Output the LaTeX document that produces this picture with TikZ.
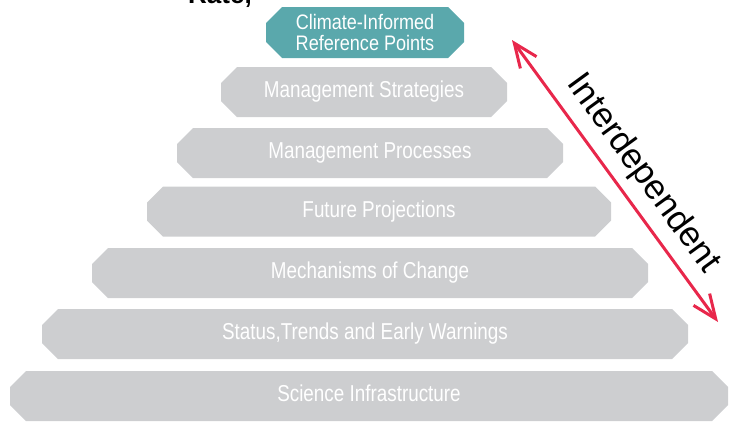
\documentclass[tikz,border=0pt]{standalone}
\usepackage{fontspec}
\setmainfont{Liberation Sans}
\newfontfamily\barfont[FakeStretch=0.82]{Liberation Sans}
\newfontfamily\topfont[FakeStretch=0.86]{Liberation Sans}
\definecolor{bargray}{HTML}{CDCED0}
\definecolor{capteal}{HTML}{5AA8AC}
\definecolor{linkred}{HTML}{E8274B}
\usetikzlibrary{arrows.meta}
\tikzset{
  chamfill/.style={path picture={
    \fill[#1] ([xshift=16pt]path picture bounding box.north west)
      -- ([xshift=-16pt]path picture bounding box.north east)
      -- ([yshift=-16pt]path picture bounding box.north east)
      -- ([yshift=16pt]path picture bounding box.south east)
      -- ([xshift=-16pt]path picture bounding box.south east)
      -- ([xshift=16pt]path picture bounding box.south west)
      -- ([yshift=16pt]path picture bounding box.south west)
      -- ([yshift=-16pt]path picture bounding box.north west) -- cycle;}},
  tier/.style={rectangle, chamfill=bargray, text=white, minimum height=50pt, inner sep=0pt,
    font=\barfont\fontsize{23}{23}\selectfont, text height=16pt, text depth=5pt},
  captier/.style={rectangle, chamfill=capteal, text=white, minimum height=51pt, inner sep=0pt,
    align=center, font=\topfont\fontsize{21}{21}\selectfont},
}
\begin{document}
\begin{tikzpicture}[x=1pt, y=-1pt]
\useasboundingbox (0,0) rectangle (733,421);
% cut-off title fragment at the top edge
\node (ratefrag) [anchor=base east, inner sep=0pt, font=\bfseries\fontsize{26}{26}\selectfont] at (252,3.5) {Rate,};
% the pyramid
\node (crefpts) [captier, minimum width=198pt] at (365,32.5) {Climate-Informed\\Reference Points};
\node (strat)  [tier, minimum width=286pt] at (364,92)    {Management Strategies};
\node (proc)   [tier, minimum width=386pt] at (370,153)   {Management Processes};
\node (proj)   [tier, minimum width=464pt] at (379,211.5) {Future Projections};
\node (mech)   [tier, minimum width=556pt] at (370,273)   {Mechanisms of Change};
\node (status) [tier, minimum width=646pt] at (365,334)   {Status,Trends and Early Warnings};
\node (infra)  [tier, minimum width=718pt] at (369,396)   {Science Infrastructure};
% interdependence arrow
\coordinate (linktop) at (512,40);
\coordinate (linkbot) at (718,322);
\draw [linkred, line width=3pt, {Straight Barb[length=24pt,width=20pt]}-{Straight Barb[length=24pt,width=20pt]}]
  (linktop) -- node (interdep) [pos=0.53, sloped, above, inner sep=9pt, text=black, font=\fontsize{35}{35}\selectfont] {Interdependent} (linkbot);
\end{tikzpicture}
\end{document}
